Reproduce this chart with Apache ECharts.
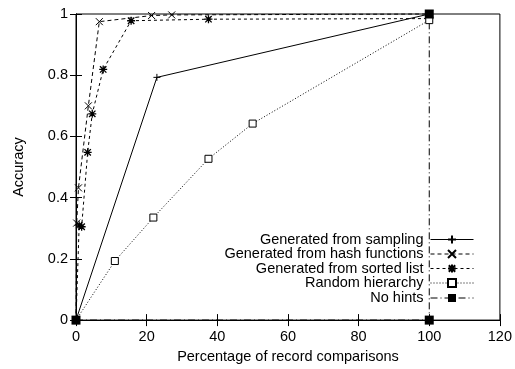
<!DOCTYPE html>
<html>
<head>
<meta charset="utf-8">
<script src="https://cdn.jsdelivr.net/npm/echarts@6/dist/echarts.min.js"></script>
<style>
  html, body { margin: 0; padding: 0; background: #fff; }
  #chart { width: 515px; height: 369px; }
</style>
</head>
<body>
<div id="chart"></div>
<script>
// values: [percentage of comparisons, accuracy]
const seriesNames = ['Generated from sampling', 'Generated from hash functions', 'Generated from sorted list', 'Random hierarchy', 'No hints'];
const sampling = [[0, 0], [22.9, 0.793], [100, 1]];
const hashFunctions = [[0, 0], [0.2, 0.317], [0.7, 0.432], [3.5, 0.70], [6.6, 0.975], [21.4, 0.995], [27.1, 0.997], [100, 1]];
const sortedList = [[0, 0], [0.9, 0.31], [1.6, 0.305], [3.3, 0.548], [4.6, 0.674], [7.7, 0.819], [15.6, 0.978], [37.5, 0.983], [100, 0.985]];
const randomHierarchy = [[0, 0], [11, 0.193], [21.9, 0.335], [37.5, 0.527], [50, 0.642], [100, 0.98]];
const noHints = [[0, 0], [100, 0], [100, 1]];

const FONT = 'Liberation Sans, Arial, Helvetica, sans-serif';
const plusPath = 'path://M0,5L10,5M5,0L5,10';
const crossPath = 'path://M0,0L10,10M0,10L10,0';
const starPath = 'path://M0,5L10,5M5,0L5,10M1,1L9,9M1,9L9,1';
const boxPath = 'path://M0,0L10,0L10,10L0,10Z';

const mkSeries = (name, data, symbol, size, dash, bw, fill) => ({
  name: name,
  type: 'line',
  data: data,
  symbol: symbol,
  symbolSize: size,
  clip: false,
  lineStyle: {color: '#000', width: 1, type: dash},
  itemStyle: {color: fill || '#000', borderColor: '#000', borderWidth: bw},
  emphasis: {disabled: true}
});

const legendTops = [227, 241.5, 256, 270.5, 285.5];
const legends = seriesNames.map((n, i) => ({
  data: [n],
  right: 36,
  top: legendTops[i],
  align: 'right',
  itemWidth: 43,
  itemHeight: 10,
  selectedMode: false,
  lineStyle: {width: 1},
  textStyle: {fontFamily: FONT, fontSize: 14.5, color: '#000', padding: [0, 2, 0, 0]}
}));

const axisCommon = {
  type: 'value',
  axisLine: {show: true, lineStyle: {color: '#000', width: 1}},
  axisTick: {show: true, inside: true, length: 6, lineStyle: {color: '#000'}},
  splitLine: {show: false}
};

const option = {
  animation: false,
  backgroundColor: '#fff',
  grid: {left: 76, right: 15, top: 14, bottom: 45, show: true, borderColor: '#000', borderWidth: 1},
  legend: legends,
  xAxis: [
    Object.assign({}, axisCommon, {
      min: 0, max: 120, interval: 20,
      name: 'Percentage of record comparisons',
      nameLocation: 'middle', nameGap: 28,
      nameTextStyle: {fontFamily: FONT, fontSize: 14.5, color: '#000'},
      axisLabel: {fontFamily: FONT, fontSize: 14.5, color: '#000', margin: 9}
    }),
    Object.assign({}, axisCommon, {
      position: 'top', min: 0, max: 120, interval: 20,
      axisLabel: {show: false}
    })
  ],
  yAxis: [
    Object.assign({}, axisCommon, {
      min: 0, max: 1, interval: 0.2,
      name: 'Accuracy',
      nameLocation: 'middle', nameGap: 50,
      nameTextStyle: {fontFamily: FONT, fontSize: 14.5, color: '#000'},
      axisLabel: {fontFamily: FONT, fontSize: 14.5, color: '#000', margin: 8}
    }),
    Object.assign({}, axisCommon, {
      position: 'right', min: 0, max: 1, interval: 0.2,
      axisLabel: {show: false}
    })
  ],
  series: [
    mkSeries(seriesNames[0], sampling, plusPath, 7, 'solid', 1),
    mkSeries(seriesNames[1], hashFunctions, crossPath, 7, [4, 3], 1),
    mkSeries(seriesNames[2], sortedList, starPath, 8, [3, 3], 1.3),
    mkSeries(seriesNames[3], randomHierarchy, boxPath, 7, [1, 2], 1, '#fff'),
    mkSeries(seriesNames[4], noHints, 'rect', 9, [7, 3, 1, 3], 0)
  ]
};

const myChart = echarts.init(document.getElementById('chart'), null, {renderer: 'canvas'});
myChart.setOption(option);
</script>
</body>
</html>
